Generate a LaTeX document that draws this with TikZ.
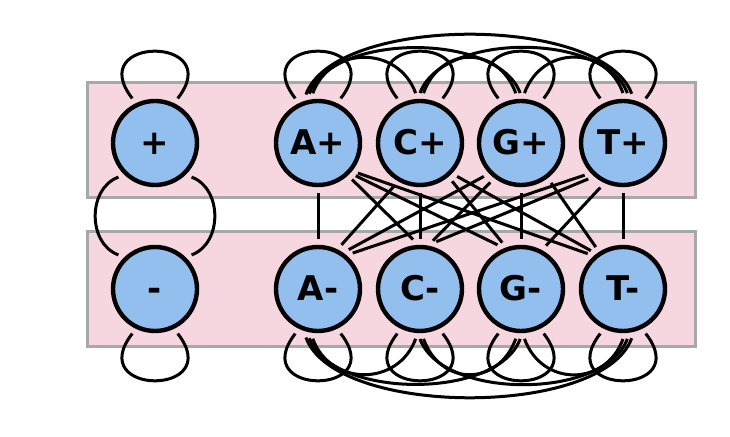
\documentclass[tikz,border=0pt]{standalone}
\usepackage{fontspec}
\setmainfont{DejaVu Sans}
\definecolor{stateblue}{RGB}{146,191,238}
\definecolor{bandpink}{RGB}{246,214,223}
\definecolor{bandgray}{RGB}{168,168,168}
\begin{document}
\begin{tikzpicture}[x=1pt,y=1pt,
  band/.style={fill=bandpink, draw=bandgray, line width=3pt},
  state/.style={circle, draw=black, line width=4.4pt, fill=stateblue,
    minimum size=84pt, inner sep=0pt, outer sep=8pt,
    text height=24pt, text depth=0pt,
    font=\fontsize{34}{40}\selectfont\bfseries},
  link/.style={draw=black, line width=3pt}
]
\useasboundingbox (0,0) rectangle (730,436);

% strand bands
\draw[band] (87,238) rectangle (695,353);
\draw[band] (87,89) rectangle (695,204);

% states
\node[state] (p)  at (155,293) {+};
\node[state] (ap) at (318,293) {A+};
\node[state] (cp) at (420,293) {C+};
\node[state] (gp) at (521,293) {G+};
\node[state] (tp) at (623,293) {T+};
\node[state] (m)  at (155,147) {-};
\node[state] (am) at (318,147) {A-};
\node[state] (cm) at (420,147) {C-};
\node[state] (gm) at (521,147) {G-};
\node[state] (tm) at (623,147) {T-};

% self loops
\foreach \n in {p,ap,cp,gp,tp}
  \draw[link] (\n.117) .. controls +(128:80) and +(52:80) .. (\n.63);
\foreach \n in {m,am,cm,gm,tm}
  \draw[link] (\n.243) .. controls +(232:80) and +(308:80) .. (\n.297);

% + and - linked on both sides
\draw[link] (p.223) .. controls +(200:33) and +(160:33) .. (m.137);
\draw[link] (p.317) .. controls +(-20:33) and +(20:33) .. (m.43);

% arcs over the upper strand
\draw[link] (ap.96)  .. controls +(70:51) and +(110:51) .. (cp.95);
\draw[link] (ap.100) .. controls +(70:65) and +(110:65) .. (gp.91);
\draw[link] (ap.104) .. controls +(70:85) and +(110:85) .. (tp.80);
\draw[link] (cp.86)  .. controls +(70:51) and +(110:51) .. (gp.96);
\draw[link] (cp.90)  .. controls +(70:65) and +(110:65) .. (tp.85);
\draw[link] (gp.86)  .. controls +(70:51) and +(110:51) .. (tp.90);

% arcs under the lower strand
\draw[link] (am.264) .. controls +(-70:51) and +(-110:51) .. (cm.265);
\draw[link] (am.260) .. controls +(-70:65) and +(-110:65) .. (gm.269);
\draw[link] (am.256) .. controls +(-70:85) and +(-110:85) .. (tm.280);
\draw[link] (cm.274) .. controls +(-70:51) and +(-110:51) .. (gm.264);
\draw[link] (cm.270) .. controls +(-70:65) and +(-110:65) .. (tm.275);
\draw[link] (gm.274) .. controls +(-70:51) and +(-110:51) .. (tm.270);

% links between the strands
\draw[link] (ap.270) -- (am.90);
\draw[link] (cp.270) -- (cm.90);
\draw[link] (gp.270) -- (gm.90);
\draw[link] (tp.270) -- (tm.90);

\draw[link] (ap.313) -- (cm.98);
\draw[link] (ap.319) -- (gm.118);
\draw[link] (ap.323) -- (tm.135);
\draw[link] (cp.239) -- (am.62);
\draw[link] (cp.310) -- (gm.112);
\draw[link] (cp.318) -- (tm.130);
\draw[link] (gp.222) -- (am.52);
\draw[link] (gp.232) -- (cm.75);
\draw[link] (gp.307) -- (tm.123);
\draw[link] (tp.220) -- (am.46);
\draw[link] (tp.226) -- (cm.71);
\draw[link] (tp.243) -- (gm.60);
\end{tikzpicture}
\end{document}
